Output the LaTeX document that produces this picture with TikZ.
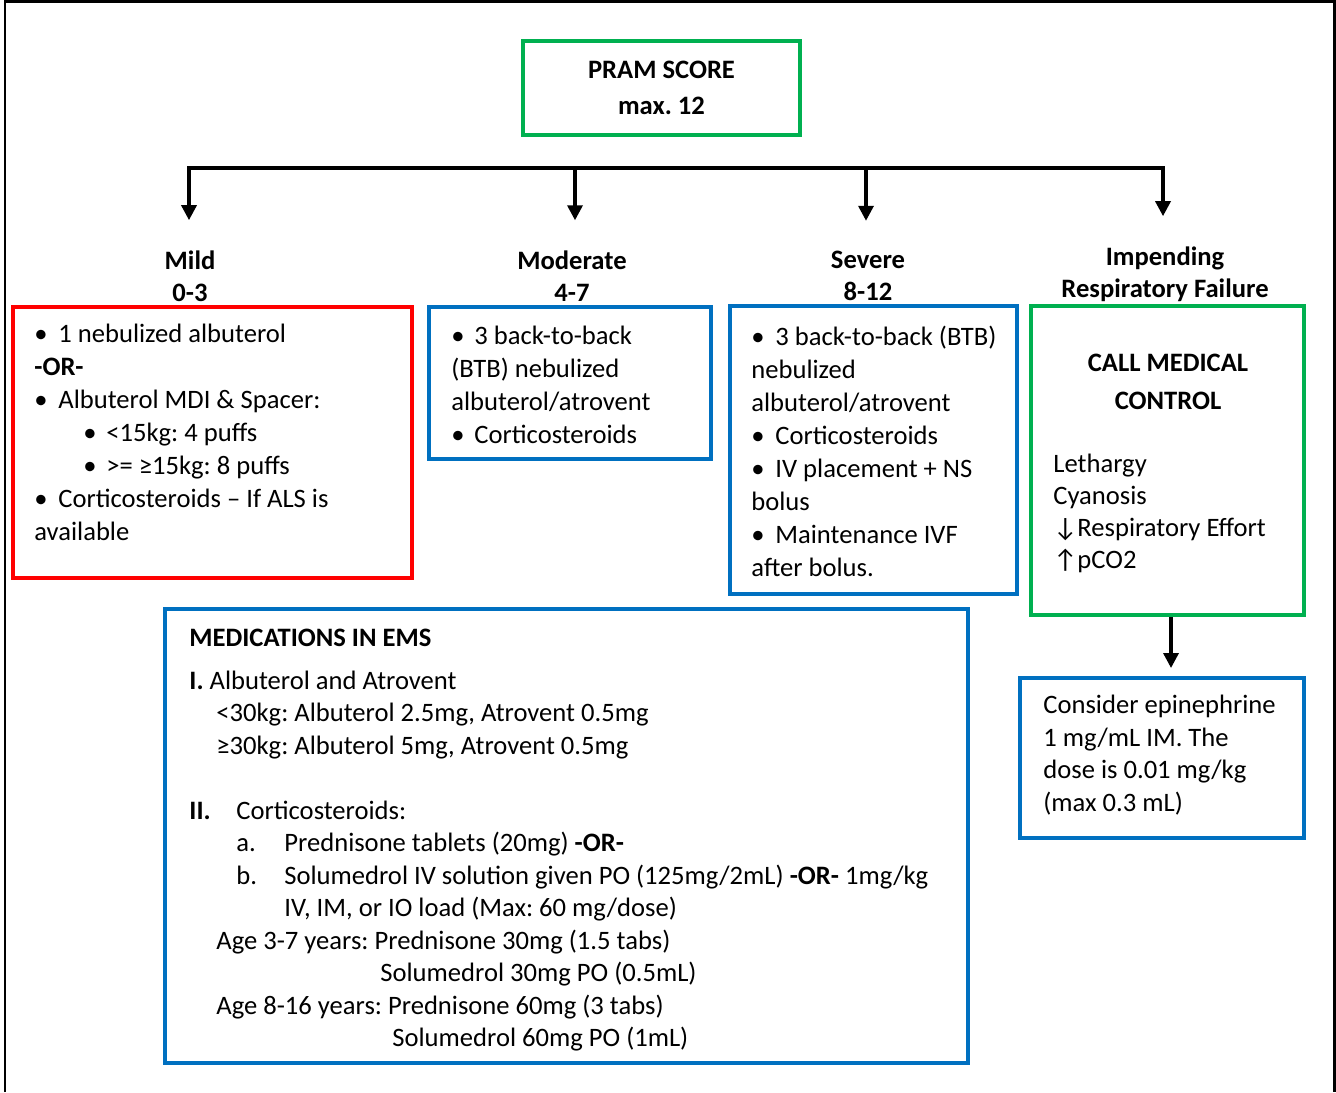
\documentclass[tikz,border=0pt]{standalone}
\usepackage{fontspec}
\setmainfont{Carlito}
\usetikzlibrary{positioning,arrows.meta}

\definecolor{pramred}{HTML}{FF0000}
\definecolor{pramblue}{HTML}{0070C0}
\definecolor{pramgreen}{HTML}{00B050}

\newcommand{\bul}[1][12pt]{\makebox[#1][l]{\textbullet}}
\frenchspacing

\begin{document}
\begin{tikzpicture}[
    x=0.5pt, y=-0.5pt,
    every node/.style={font=\fontsize{13.3}{16.5}\selectfont, inner sep=0pt},
    panel/.style={rectangle, draw=#1, line width=2pt},
    heading/.style={font=\fontsize{13.3}{16}\selectfont\bfseries, align=center},
    body/.style={align=left, anchor=north west},
    arrow/.style={-{Triangle[length=7.5pt,width=7.5pt]}, line width=1.7pt},
    bar/.style={line width=1.7pt, line cap=rect}
]
\useasboundingbox (0,0) rectangle (1336,1092);

% outer frame
\draw[line width=1.25pt] (5,1092) -- (5,1.5) -- (1334.5,1.5) -- (1334.5,1092);

% score box and levels
\node[panel=pramgreen, heading, font=\fontsize{13.3}{18}\selectfont\bfseries,
      minimum width=138.5pt, minimum height=47pt] (pram) at (661.5,88) {PRAM SCORE\\max. 12};

\node[heading] (lmild) at (190,276) {Mild\\0-3};
\node[heading] (lmod) at (572,276) {Moderate\\4-7};
\node[heading] (lsev) at (868,276) {Severe\\8-12};
\node[heading] (limp) at (1165,274) {Impending\\Respiratory Failure};

\coordinate (b1) at (189,168);
\coordinate (b2) at (575,168);
\coordinate (b3) at (866,168);
\coordinate (b4) at (1163,168);

\draw[bar] (b1) -- (b4);
\draw[arrow] (b1) -- ([yshift=15pt]b1 |- lmild.north);
\draw[arrow] (b2) -- ([yshift=15pt]b2 |- lmod.north);
\draw[arrow] (b3) -- ([yshift=15pt]b3 |- lsev.north);
\draw[arrow] (b4) -- ([yshift=15pt]b4 |- limp.north);

% treatment boxes
\node[panel=pramred, minimum width=199.5pt, minimum height=135.5pt] (mild) at (212.5,442.5) {};
\node[body] (mildtxt) at (34,324) {%
  \bul 1 nebulized albuterol\\
  \textbf{-OR-}\\
  \bul Albuterol MDI \& Spacer:\\
  \hspace*{24.5pt}\bul[11.5pt]<15kg: 4 puffs\\
  \hspace*{24.5pt}\bul[11.5pt]>= ≥15kg: 8 puffs\\
  \bul Corticosteroids – If ALS is\\
  available};

\node[panel=pramblue, minimum width=141pt, minimum height=76pt] (moder) at (570,383) {};
\node[body] (modtxt) at (451,326) {%
  \bul[11.5pt]3 back-to-back\\
  (BTB) nebulized\\
  albuterol/atrovent\\
  \bul[11.5pt]Corticosteroids};

\node[panel=pramblue, minimum width=143.5pt, minimum height=144pt] (sev) at (873.5,450) {};
\node[body] (sevtxt) at (751,326) {%
  \bul 3 back-to-back (BTB)\\
  nebulized\\
  albuterol/atrovent\\
  \bul Corticosteroids\\
  \bul IV placement + NS\\
  bolus\\
  \bul Maintenance IVF\\
  after bolus.};

\node[panel=pramgreen, minimum width=136.5pt, minimum height=154.5pt] (impend) at (1167.5,460.5) {};
\node[heading, font=\fontsize{13.3}{19}\selectfont\bfseries] (callmc) at (1168,382) {CALL MEDICAL\\CONTROL};
\node[body, font=\fontsize{13.3}{16}\selectfont] (signs) at (1053,454) {%
  Lethargy\\
  Cyanosis\\
  ↓Respiratory Effort\\
  ↑pCO2};

\node[panel=pramblue, minimum width=142pt, minimum height=80pt] (epi) at (1162,758) {};
\node[body, font=\fontsize{13.3}{16.25}\selectfont] (epitxt) at (1043,695) {%
  Consider epinephrine\\
  1 mg/mL IM. The\\
  dose is 0.01 mg/kg\\
  (max 0.3 mL)};

\draw[arrow] ([xshift=1.75pt]impend.south) -- ([xshift=1.75pt,yshift=4pt]impend.south |- epi.north);

% medications
\node[panel=pramblue, minimum width=401.5pt, minimum height=227pt] (meds) at (566.5,836) {};
\node[body, font=\fontsize{13.3}{16.25}\selectfont] (medtxt) at (189,629) {%
  \textbf{MEDICATIONS IN EMS}\\[5pt]
  \textbf{I.} Albuterol and Atrovent\\
  \hspace*{13.5pt}<30kg: Albuterol 2.5mg, Atrovent 0.5mg\\
  \hspace*{13.5pt}≥30kg: Albuterol 5mg, Atrovent 0.5mg\\[16.25pt]
  \makebox[23.5pt][l]{\textbf{II.}}Corticosteroids:\\
  \hspace*{23.5pt}\makebox[24pt][l]{a.}Prednisone tablets (20mg) \textbf{-OR-}\\
  \hspace*{23.5pt}\makebox[24pt][l]{b.}Solumedrol IV solution given PO (125mg/2mL) \textbf{-OR-} 1mg/kg\\
  \hspace*{47.5pt}IV, IM, or IO load (Max: 60 mg/dose)\\
  \hspace*{13.5pt}Age 3-7 years: Prednisone 30mg (1.5 tabs)\\
  \hspace*{95.5pt}Solumedrol 30mg PO (0.5mL)\\
  \hspace*{13.5pt}Age 8-16 years: Prednisone 60mg (3 tabs)\\
  \hspace*{101.5pt}Solumedrol 60mg PO (1mL)};

\end{tikzpicture}
\end{document}
